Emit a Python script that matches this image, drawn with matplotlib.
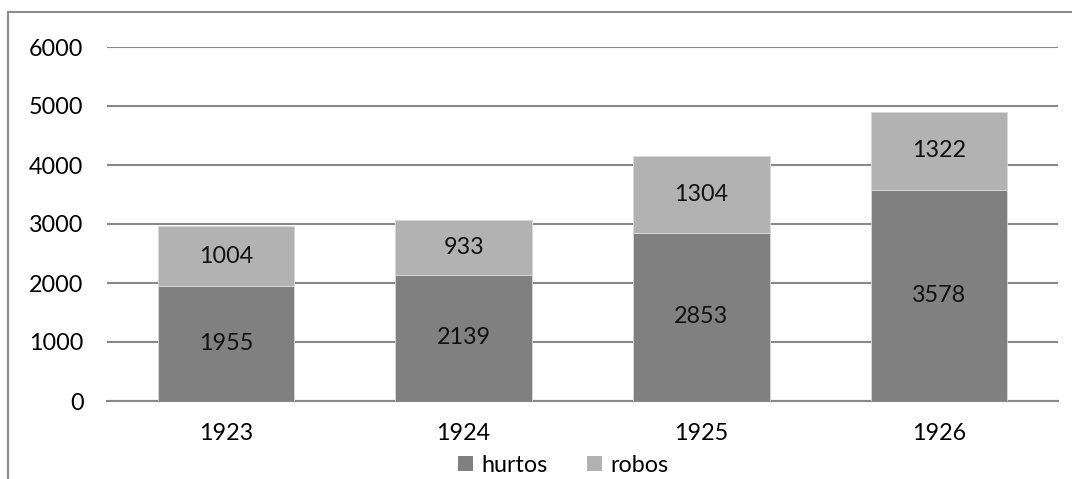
import matplotlib
matplotlib.use("Agg")
import matplotlib.pyplot as plt
from matplotlib.lines import Line2D

years = ["1923", "1924", "1925", "1926"]
hurtos = [1955, 2139, 2853, 3578]
robos = [1004, 933, 1304, 1322]
y_ticks = [0, 1000, 2000, 3000, 4000, 5000, 6000]

plt.rcParams["font.family"] = ["Lato", "DejaVu Sans"]
FS = 16.8

W, H = 1072, 479
fig = plt.figure(figsize=(W / 100, H / 100), dpi=100)
ax = fig.add_axes([107 / W, 1 - 401 / H, (1058 - 107) / W, (401 - 47) / H])

x = range(len(years))
c_h = "#808080"
c_r = "#b2b2b2"
bw = 0.575
b1 = ax.bar(x, hurtos, width=bw, color=c_h, edgecolor="#d9d9d9", linewidth=0.6, zorder=3)
b2 = ax.bar(x, robos, width=bw, bottom=hurtos, color=c_r, edgecolor="#d9d9d9", linewidth=0.6, zorder=3)

for i in x:
    ax.text(i, hurtos[i] / 2, str(hurtos[i]), ha="center", va="center", fontsize=FS, color="#111111", zorder=4)
    ax.text(i, hurtos[i] + robos[i] / 2, str(robos[i]), ha="center", va="center", fontsize=FS, color="#111111", zorder=4)

ax.set_xlim(-0.5, 3.5)
ax.set_ylim(0, 6000)
ax.set_yticks(y_ticks)
ax.set_yticklabels([str(t) for t in y_ticks], fontsize=FS)
ax.set_xticks(list(x))
ax.set_xticklabels(years, fontsize=FS)
ax.tick_params(axis="y", length=0, pad=17)
ax.tick_params(axis="x", length=0, pad=16)
ax.grid(axis="y", color="#888888", linewidth=1.5, zorder=0)
for s in ["top", "right", "left"]:
    ax.spines[s].set_visible(False)
ax.spines["bottom"].set_color("#888888")
ax.spines["bottom"].set_linewidth(1.5)

# outer chart frame (left and top edges)
fig.add_artist(Line2D([7.5 / W, 7.5 / W], [0, 1 - 12 / H], transform=fig.transFigure, color="#8c8c8c", linewidth=1.5))
fig.add_artist(Line2D([7.5 / W, 1], [1 - 12 / H, 1 - 12 / H], transform=fig.transFigure, color="#8c8c8c", linewidth=1.5))

leg = fig.legend([b1, b2], ["hurtos", "robos"], loc="center", bbox_to_anchor=(563 / W, 1 - 465 / H),
                 ncol=2, frameon=False, fontsize=FS, handlelength=0.65, handleheight=0.65,
                 handletextpad=0.35, columnspacing=1.7, borderpad=0)
for h in leg.legend_handles:
    h.set_edgecolor("none")

fig.savefig("out.png", dpi=100)
